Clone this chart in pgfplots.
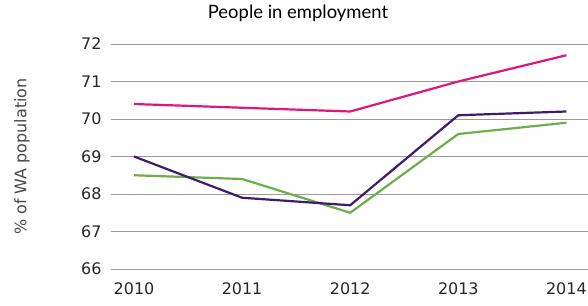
\documentclass[border=0pt]{standalone}
\usepackage{pgfplots}
\pgfplotsset{compat=1.18}
\usepackage{fontspec}
\setmainfont{DejaVu Sans}
\newfontfamily\titlefont{Lato}
\definecolor{cpink}{HTML}{E0167C}
\definecolor{cpurple}{HTML}{3E1C6E}
\definecolor{cgreen}{HTML}{6BAE4C}
\definecolor{cgrid}{HTML}{9A9A9A}
\definecolor{ctext}{HTML}{262626}
\begin{document}
\begin{tikzpicture}
\useasboundingbox (-111bp,-37bp) rectangle (477bp,269bp);
\begin{axis}[
  at={(0,0)}, anchor=south west,
  scale only axis, width=477bp, height=225bp,
  xmin=2009.787, xmax=2014.2,
  ymin=66, ymax=72,
  xtick={2010,2011,2012,2013,2014},
  ytick={66,67,68,69,70,71,72},
  /pgf/number format/assume math mode=true,
  /pgf/number format/1000 sep={},
  ticklabel style={font=\fontsize{16}{19}\selectfont, text=ctext},
  yticklabel style={xshift=-6bp},
  xticklabel style={yshift=-10bp},
  axis line style={draw=none},
  tick style={draw=none},
  ymajorgrids, grid style={cgrid, line width=0.9bp},
  ylabel={\% of WA population},
  ylabel style={at={(axis description cs:-0.1866,0.5)}, anchor=center, font=\fontsize{16}{19}\selectfont, text=ctext!85},
  title={People in employment},
  title style={at={(axis description cs:0.392,1.11)}, anchor=center, yshift=0pt, font=\titlefont\fontsize{18.5}{22}\selectfont, text=black},
  clip=false,
]
\addplot[cpink, line width=2.2bp] coordinates {(2010,70.4) (2011,70.3) (2012,70.2) (2013,71.0) (2014,71.7)};
\addplot[cgreen, line width=2.2bp] coordinates {(2010,68.5) (2011,68.4) (2012,67.5) (2013,69.6) (2014,69.9)};
\addplot[cpurple, line width=2.2bp] coordinates {(2010,69.0) (2011,67.9) (2012,67.7) (2013,70.1) (2014,70.2)};
\end{axis}
\end{tikzpicture}
\end{document}
